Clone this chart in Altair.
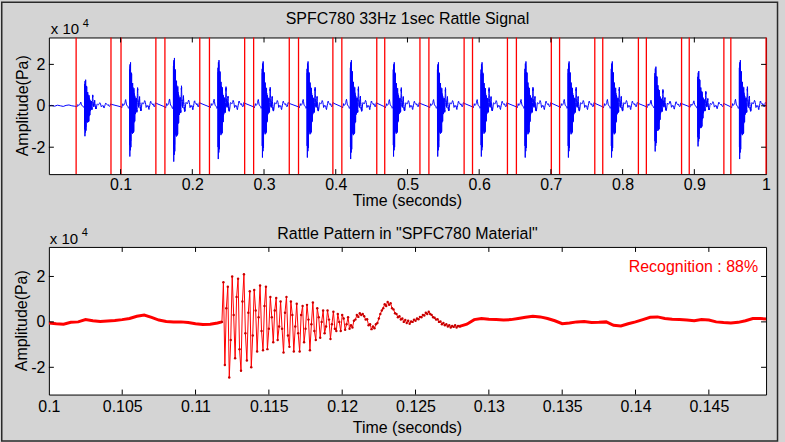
import altair as alt
import numpy as np
import pandas as pd

FONT = "Liberation Sans"
BG = "#d4d4d4"

# ---------------- text ----------------
title_top = "SPFC780 33Hz 1sec Rattle Signal"
title_bottom = 'Rattle Pattern in "SPFC780 Material"'
x_title = "Time (seconds)"
y_title = "Amplitude(Pa)"
exp_base = "x 10"
exp_power = "4"
recog_text = "Recognition : 88%"

# ---------------- ticks ----------------
top_x_ticks = [0.1, 0.2, 0.3, 0.4, 0.5, 0.6, 0.7, 0.8, 0.9, 1.0]
bottom_x_ticks = [0.1, 0.105, 0.11, 0.115, 0.12, 0.125, 0.13, 0.135, 0.14, 0.145]
y_ticks = [-2, 0, 2]

# ---------------- top panel: detected rattle segments (s) ----------------
seg_start = [0.038, 0.1006, 0.1618, 0.2239, 0.2855, 0.3481, 0.4085, 0.4683,
             0.5299, 0.5907, 0.6519, 0.7121, 0.7723, 0.8331, 0.8929, 0.9509]
seg_end = [0.0866, 0.1492, 0.2104, 0.2730, 0.3352, 0.3960, 0.4572, 0.5174,
           0.5790, 0.6394, 0.7006, 0.7612, 0.8220, 0.8822, 0.9412, 1.0]
# relative burst strength of each impact in the 1 s record
burst_scale = [0.6, 1.0, 1.1, 1.05, 1.02, 1.02, 1.05, 1.0,
               1.0, 1.0, 1.02, 1.02, 1.02, 0.9, 0.8, 1.05]
# quiet signal before the first segment, every 0.004 s (x 1e4 Pa)
lead_in_vals = [0.0, 0.02, -0.02, 0.03, 0.0, -0.03, 0.02, 0.04, 0.0, -0.02]

# ---------------- bottom panel: rattle pattern (x 1e4 Pa) ----------------
# quiet part before impact, every 0.0005 s starting at 0.1000
pre_vals = [-0.05, -0.08, -0.1, -0.02, 0.0, 0.1, 0.05, 0.02, 0.04, 0.06,
            0.1, 0.15, 0.25, 0.3, 0.2, 0.08, 0.02, 0.0, 0.0, -0.03,
            -0.08, -0.12, -0.1, -0.05]
# impact, every 0.0001 s starting at 0.1118
burst_vals = [
    0.0, 1.75, -1.9, 0.6, 1.55, -2.45, -0.8, 2.0, 0.3, -1.6,
    1.1, 1.9, -1.2, -2.15, 0.9, 2.1, -0.5, -1.7, 0.4, 1.35,
    -2.0, -0.6, 1.4, 0.5, -1.3, 0.2, 1.6, -0.4, -1.25, 0.7,
    1.55, -1.2, -0.3, 1.1, 0.2, -0.9, 0.5, 1.05, -0.8, -0.2,
    0.9, -0.3, -1.35, 0.4, 1.1, -0.6, -1.1, 0.9, 0.3, -1.3,
    -0.2, 0.8, -0.5, -1.3, 0.3, 0.7, -0.9, -0.3, 0.75, 0.1,
    -1.25, -0.1, 0.85, -0.4, -0.8, 0.6, 0.2, -0.7, 0.0, 0.5,
    -0.5, -0.2, 0.5, 0.1, -0.75, -0.1, 0.45, -0.3, -0.4, 0.35,
    0.0, -0.4, 0.3, 0.15, -0.35, -0.1, 0.2,
    -0.3, -0.15, -0.25, 0.05, 0.1, 0.3, 0.22, 0.38, 0.3, 0.35,
    0.25, 0.1, 0.12, -0.15, -0.1, -0.32, -0.2, -0.28, -0.1, -0.05,
    0.15, 0.35, 0.5, 0.6, 0.78, 0.7, 0.88, 0.75, 0.82, 0.6,
    0.55, 0.38, 0.35, 0.2, 0.25, 0.1, 0.15, 0.0, 0.08, -0.05,
    0.05, -0.08, 0.02, 0.0, 0.1, 0.05, 0.15, 0.12, 0.22, 0.2,
    0.3, 0.28, 0.4, 0.35, 0.45, 0.35, 0.3, 0.2, 0.18, 0.1,
    0.12, 0.0, 0.02, -0.1, -0.05, -0.15, -0.1, -0.2, -0.15, -0.25,
    -0.18, -0.22, -0.15, -0.25, -0.18, -0.2]
# decay tail, every 0.0005 s starting at 0.1285
post_vals = [-0.1, 0.1, 0.15, 0.12, 0.1, 0.08, 0.1, 0.15, 0.2, 0.25,
             0.22, 0.15, 0.05, -0.08, -0.05, 0.0, 0.02, -0.03, -0.02, 0.0,
             -0.15, -0.18, -0.08, 0.0, 0.1, 0.2, 0.22, 0.15, 0.12, 0.1,
             0.08, 0.05, 0.1, 0.08, 0.0, -0.03, -0.05, -0.02, 0.05, 0.15,
             0.15, 0.12]

# ---------------- build tables ----------------
pre_t = np.round(0.1 + np.arange(len(pre_vals)) * 0.0005, 6)
burst_t = np.round(0.1118 + np.arange(len(burst_vals)) * 0.0001, 6)
post_t = np.round(0.1285 + np.arange(len(post_vals)) * 0.0005, 6)

pat_t = np.concatenate([pre_t, burst_t, post_t])
pat_v = np.array(pre_vals + burst_vals + post_vals)
pat_part = ["pre"] * len(pre_vals) + ["burst"] * len(burst_vals) + ["post"] * len(post_vals)
bottom_df = pd.DataFrame({"t": pat_t, "v": pat_v, "part": pat_part})
quiet_df = pd.concat([
    bottom_df[bottom_df.part == "pre"],
    pd.DataFrame({"t": [burst_t[0]], "v": [burst_vals[0]], "part": ["pre"]}),
    pd.DataFrame({"t": [burst_t[-1]], "v": [burst_vals[-1]], "part": ["post"]}),
    bottom_df[bottom_df.part == "post"],
])
burst_df = bottom_df[bottom_df.part == "burst"]

rows_t = list(np.arange(len(lead_in_vals)) * 0.004)
rows_v = list(lead_in_vals)
for s, k in zip(seg_start, burst_scale):
    rows_t += list(s + (pat_t - 0.1))
    rows_v += list(pat_v * k)
top_df = pd.DataFrame({"t": rows_t, "v": rows_v})

seg_df = pd.DataFrame({"t": seg_start + seg_end})

# ---------------- axes (identical spec on every layer so they merge) ----------------
def make_xaxis(values, pad):
    return alt.Axis(values=values, format="~g", title="", labelPadding=pad)


yaxis = alt.Axis(values=y_ticks, labelExpr="datum.value < 0 ? '-' + abs(datum.value) : '' + datum.value",
                 title="", labelPadding=4)


def txt(s, x, y, size=16, color="black", align="center", baseline="middle", angle=0):
    return alt.Chart(pd.DataFrame({"s": [s]})).mark_text(
        font=FONT, fontSize=size, color=color, align=align, baseline=baseline, angle=angle
    ).encode(text="s:N", x=alt.value(x), y=alt.value(y))


def tick_layers(xs, xsc, xax, ysc, w, h):
    xt = pd.DataFrame({"t": xs})
    yt = pd.DataFrame({"v": y_ticks})
    c = "black"
    return [
        alt.Chart(xt).mark_rule(color=c).encode(x=alt.X("t:Q", scale=xsc, axis=xax), y=alt.value(0), y2=alt.value(5)),
        alt.Chart(xt).mark_rule(color=c).encode(x=alt.X("t:Q", scale=xsc, axis=xax), y=alt.value(h), y2=alt.value(h - 5)),
        alt.Chart(yt).mark_rule(color=c).encode(y=alt.Y("v:Q", scale=ysc, axis=yaxis), x=alt.value(0), x2=alt.value(5)),
        alt.Chart(yt).mark_rule(color=c).encode(y=alt.Y("v:Q", scale=ysc, axis=yaxis), x=alt.value(w), x2=alt.value(w - 5)),
    ]


# ---------------- top panel ----------------
W1, H1 = 719, 137
xs1 = alt.Scale(domain=[0, 1], nice=False, zero=False)
ys1 = alt.Scale(domain=[-3.3, 3.3], nice=False, zero=False)
xax1 = make_xaxis(top_x_ticks, 2)

frame = alt.Chart(pd.DataFrame({"s": [""]})).mark_rect(fill="white", fillOpacity=0).encode(
    x=alt.value(-48), x2=alt.value(737), y=alt.value(-36), y2=alt.value(406))
border = alt.Chart(pd.DataFrame({"s": [""]})).mark_rect(fill="white", fillOpacity=0, stroke="#2a2a2a", strokeWidth=1.5).encode(
    x=alt.value(-47.25), x2=alt.value(730.5), y=alt.value(-35.25), y2=alt.value(404.5))

top_line = alt.Chart(top_df).mark_line(color="#0000ff", strokeWidth=1, clip=True).encode(
    x=alt.X("t:Q", scale=xs1, axis=xax1),
    y=alt.Y("v:Q", scale=ys1, axis=yaxis),
    order="t:Q",
)
seg_rules = alt.Chart(seg_df).mark_rule(color="#ff0000", strokeWidth=1.3).encode(
    x=alt.X("t:Q", scale=xs1, axis=xax1))

top = alt.layer(
    top_line, frame, border, seg_rules, *tick_layers(top_x_ticks[:-1], xs1, xax1, ys1, W1, H1),
    txt(title_top, W1 / 2, -19),
    txt(exp_base, 2, -3, size=15, align="left", baseline="alphabetic"),
    txt(exp_power, 34, -10, size=11, align="left", baseline="alphabetic"),
    txt(x_title, W1 / 2, H1 + 27),
    txt(y_title, -26, H1 / 2, angle=270),
).properties(width=W1, height=H1)

# ---------------- bottom panel ----------------
W2, H2 = 719, 148
xs2 = alt.Scale(domain=[0.1, 0.1489], nice=False, zero=False)
ys2 = alt.Scale(domain=[-3.2, 3.3], nice=False, zero=False)
xax2 = make_xaxis(bottom_x_ticks, 4)

quiet_line = alt.Chart(quiet_df).mark_line(color="#ff0000", strokeWidth=3, clip=True).encode(
    x=alt.X("t:Q", scale=xs2, axis=xax2),
    y=alt.Y("v:Q", scale=ys2, axis=yaxis),
    detail="part:N",
    order="t:Q",
)
thin_line = alt.Chart(bottom_df).mark_line(color="#ff0000", strokeWidth=1, clip=True).encode(
    x=alt.X("t:Q", scale=xs2, axis=xax2), y=alt.Y("v:Q", scale=ys2, axis=yaxis), order="t:Q")
dots = alt.Chart(burst_df).mark_point(filled=True, color="#c80000", size=6, opacity=1, clip=True).encode(
    x=alt.X("t:Q", scale=xs2, axis=xax2), y=alt.Y("v:Q", scale=ys2, axis=yaxis))

bottom = alt.layer(
    quiet_line, thin_line, dots, *tick_layers(bottom_x_ticks[1:], xs2, xax2, ys2, W2, H2),
    txt(title_bottom, W2 / 2, -13),
    txt(exp_base, 1, -3, size=15, align="left", baseline="alphabetic"),
    txt(exp_power, 33, -11, size=11, align="left", baseline="alphabetic"),
    txt(x_title, W2 / 2, H2 + 34),
    txt(y_title, -27, H2 / 2, angle=270),
    txt(recog_text, 711, 20, color="#ff0000", align="right"),
).properties(width=W2, height=H2)

chart = alt.VConcatChart(vconcat=[top, bottom], spacing=73, bounds="flush").properties(
    padding=0
).configure(background=BG).configure_view(
    fill="white", stroke="black", strokeWidth=1
).configure_axis(
    ticks=False, domain=False, grid=False, labelFlush=False, labelOverlap=False,
    labelFont=FONT, labelFontSize=16, labelColor="black"
)

chart.save("out.html", embed_options={"renderer": "svg", "actions": False})
